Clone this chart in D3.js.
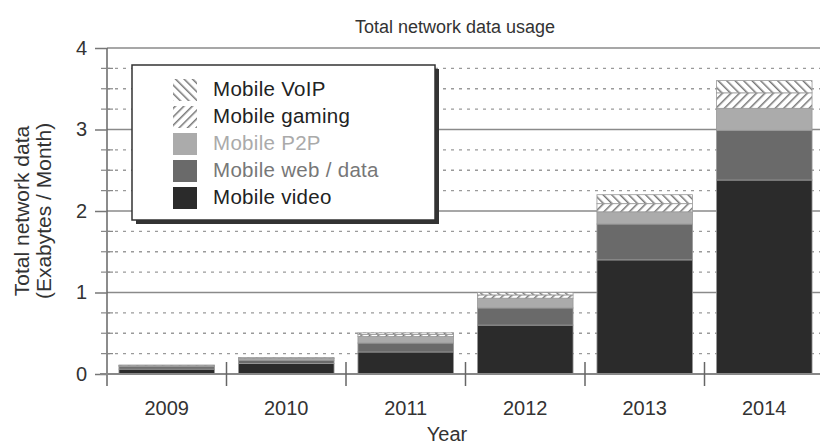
<!DOCTYPE html>
<meta charset="utf-8">
<style>
  body { margin: 0; background: #fff; }
  text { font-family: "Liberation Sans", Arial, sans-serif; }
</style>
<body>
<div id="chart"></div>
<script src="https://cdn.jsdelivr.net/npm/d3@7"></script>
<script>
  const years = ['2009', '2010', '2011', '2012', '2013', '2014'];
  const keys = ['video', 'web', 'p2p', 'gaming', 'voip'];
  const labels = ['Mobile video', 'Mobile web / data', 'Mobile P2P', 'Mobile gaming', 'Mobile VoIP'];
  const video = [0.06, 0.13, 0.27, 0.60, 1.40, 2.38];
  const web = [0.03, 0.04, 0.11, 0.21, 0.44, 0.61];
  const p2p = [0.012, 0.02, 0.08, 0.12, 0.15, 0.27];
  const gaming = [0.004, 0.006, 0.025, 0.04, 0.10, 0.19];
  const voip = [0.004, 0.005, 0.02, 0.03, 0.11, 0.15];
  const yTicks = [0, 1, 2, 3, 4];

  const rows = years.map((y, i) => ({
    year: y, video: video[i], web: web[i], p2p: p2p[i], gaming: gaming[i], voip: voip[i]
  }));
  const series = d3.stack().keys(keys)(rows);

  const W = 820, H = 446;
  const svg = d3.select('#chart').append('svg').attr('width', W).attr('height', H);

  // hatch patterns
  const defs = svg.append('defs');
  function hatch(id, dir) {
    const p = defs.append('pattern').attr('id', id).attr('patternUnits', 'userSpaceOnUse')
        .attr('width', 6).attr('height', 6)
        .attr('patternTransform', `rotate(${dir})`);
    p.append('rect').attr('width', 6).attr('height', 6).attr('fill', '#fff');
    p.append('line').attr('x1', 0).attr('y1', 0).attr('x2', 0).attr('y2', 6)
        .attr('stroke', '#777').attr('stroke-width', 3);
  }
  hatch('hVoip', -45);
  hatch('hGaming', 45);

  const fills = {
    video: '#2b2b2b', web: '#6a6a6a', p2p: '#ababab',
    gaming: 'url(#hGaming)', voip: 'url(#hVoip)'
  };
  const textCol = {
    video: '#222', web: '#777', p2p: '#aaa', gaming: '#222', voip: '#222'
  };

  const x0 = 107, x1 = 824;
  const x = d3.scaleBand().domain(years).range([x0, x1]).paddingInner(0.2).paddingOuter(0.1);
  const y = d3.scaleLinear().domain([0, 4]).range([374, 48]);

  // minor dotted grid
  const minor = d3.range(0.25, 4, 0.25).filter(v => v % 1 !== 0);
  svg.append('g').selectAll('line').data(minor).enter().append('line')
      .attr('x1', x0).attr('x2', W).attr('y1', d => y(d)).attr('y2', d => y(d))
      .attr('stroke', '#9a9a9a').attr('stroke-width', 1.3).attr('stroke-dasharray', '3,5');
  // major solid grid
  svg.append('g').selectAll('line').data(yTicks.slice(1)).enter().append('line')
      .attr('x1', x0).attr('x2', W).attr('y1', d => y(d)).attr('y2', d => y(d))
      .attr('stroke', '#8a8a8a').attr('stroke-width', 1.5);

  // bars
  svg.append('g').selectAll('g').data(series).enter().append('g')
      .attr('fill', d => fills[d.key])
      .selectAll('rect').data(d => d).enter().append('rect')
      .attr('x', d => x(d.data.year))
      .attr('y', d => y(d[1]))
      .attr('width', x.bandwidth())
      .attr('height', d => y(d[0]) - y(d[1]))
      .attr('stroke', '#999').attr('stroke-width', 0.8);

  // y axis
  const yAxis = d3.axisLeft(y).tickValues(yTicks).tickFormat(d3.format('d')).tickSize(12).tickPadding(8);
  const gy = svg.append('g').attr('transform', `translate(${x0},0)`).call(yAxis);
  gy.select('.domain').attr('stroke', '#666').attr('stroke-width', 1.5).attr('d', `M0,${y(4)}V${y(0) + 12}`);
  gy.selectAll('.tick line').attr('stroke', '#777').attr('stroke-width', 1.5);
  gy.selectAll('.tick text').attr('font-size', 20).attr('fill', '#333')
      .attr('font-family', '"Liberation Sans", Arial, sans-serif');
  // minor axis ticks crossing the axis
  gy.append('g').selectAll('line').data(minor).enter().append('line')
      .attr('x1', -6).attr('x2', 6).attr('y1', d => y(d)).attr('y2', d => y(d))
      .attr('stroke', '#888').attr('stroke-width', 1.2);

  // x axis
  svg.append('line').attr('x1', x0 - 7).attr('x2', W).attr('y1', y(0)).attr('y2', y(0))
      .attr('stroke', '#888').attr('stroke-width', 1.8);
  const bounds = years.slice(1).map(yr => x(yr) - x.step() * x.paddingInner() / 2);
  svg.append('g').selectAll('line').data(bounds).enter().append('line')
      .attr('x1', d => d).attr('x2', d => d).attr('y1', y(0) - 12).attr('y2', y(0) + 12)
      .attr('stroke', '#666').attr('stroke-width', 1.5);
  svg.append('g').selectAll('text').data(years).enter().append('text')
      .attr('x', d => x(d) + x.bandwidth() / 2).attr('y', 415)
      .attr('text-anchor', 'middle').attr('font-size', 20).attr('fill', '#333').text(d => d);

  // titles
  svg.append('text').attr('x', 455).attr('y', 33).attr('text-anchor', 'middle')
      .attr('font-size', 18).attr('fill', '#333').text('Total network data usage');
  svg.append('text').attr('x', 447).attr('y', 441).attr('text-anchor', 'middle')
      .attr('font-size', 20).attr('fill', '#333').text('Year');
  const yl = svg.append('text').attr('transform', 'translate(29,211) rotate(-90)')
      .attr('text-anchor', 'middle').attr('font-size', 21).attr('fill', '#333');
  yl.append('tspan').attr('x', 0).attr('dy', 0).text('Total network data');
  yl.append('tspan').attr('x', 0).attr('dy', 22).text('(Exabytes / Month)');

  // legend
  const lg = svg.append('g').attr('transform', 'translate(132,65)');
  lg.append('rect').attr('x', 4).attr('y', 4).attr('width', 303).attr('height', 155).attr('fill', '#333');
  lg.append('rect').attr('x', 0).attr('y', 0).attr('width', 303).attr('height', 155)
      .attr('fill', '#fff').attr('stroke', '#333').attr('stroke-width', 1.5);
  const legendKeys = keys.slice().reverse();
  const li = lg.selectAll('g.item').data(legendKeys).enter().append('g')
      .attr('transform', (d, i) => `translate(0,${14 + i * 27})`);
  li.append('rect').attr('x', 41).attr('y', 0).attr('width', 24).attr('height', 22)
      .attr('fill', d => fills[d]);
  li.append('text').attr('x', 81).attr('y', 17).attr('font-size', 20.5)
      .attr('letter-spacing', 0.3)
      .attr('fill', d => textCol[d]).text(d => labels[keys.indexOf(d)]);
</script>
</body>
